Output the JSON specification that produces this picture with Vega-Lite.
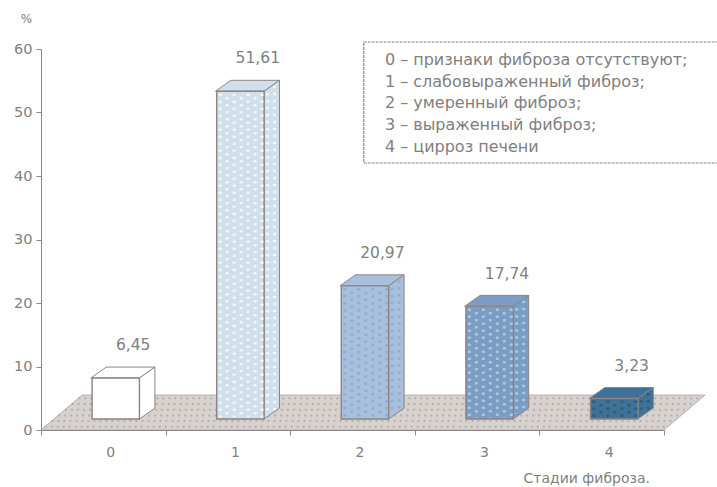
{
  "$schema": "https://vega.github.io/schema/vega-lite/v6.json",
  "width": 623,
  "height": 381,
  "autosize": "none",
  "padding": {"left": 41, "top": 49, "right": 53, "bottom": 57},
  "background": "white",
  "config": {"view": {"stroke": null}, "text": {"font": "DejaVu Sans"}, "axis": {"grid": false}},
  "datasets": {
    "stages": [
      {"stage": 0, "value": 6.45, "description": "признаки фиброза отсутствуют;"},
      {"stage": 1, "value": 51.61, "description": "слабовыраженный фиброз;"},
      {"stage": 2, "value": 20.97, "description": "умеренный фиброз;"},
      {"stage": 3, "value": 17.74, "description": "выраженный фиброз;"},
      {"stage": 4, "value": 3.23, "description": "цирроз печени"}
    ],
    "floor": [
      {"fy": 0, "fx": 0, "fx2": 5},
      {"fy": 5.5, "fx": 0.33, "fx2": 5.33}
    ],
    "floorLines": [
      {"fy": 0.5}, {"fy": 1.4}, {"fy": 2.3}, {"fy": 3.2}, {"fy": 4.1}, {"fy": 5.0}
    ],
    "note": [{"x": 2.59, "x2": 5.6, "y": 42.05, "y2": 61.1}]
  },
  "layer": [
    {
      "data": {"name": "floor"},
      "mark": {"type": "area", "orient": "horizontal", "fill": "#d8d2ce", "stroke": "#b8b0ae", "strokeWidth": 1},
      "encoding": {
        "y": {
          "field": "fy", "type": "quantitative",
          "scale": {"domain": [0, 60], "nice": false, "zero": false},
          "axis": {
            "values": [0, 10, 20, 30, 40, 50, 60],
            "zindex": 1,
            "domainColor": "#8f8785", "tickColor": "#8f8785", "tickSize": 5,
            "labelColor": "#808080", "labelFont": "DejaVu Sans", "labelFontSize": 14.5, "labelPadding": 4,
            "title": "%", "titleAngle": 0, "titleX": -15, "titleY": -24, "titleAlign": "center",
            "titleColor": "#808080", "titleFont": "DejaVu Sans", "titleFontSize": 12, "titleFontWeight": "normal"
          }
        },
        "x": {
          "field": "fx", "type": "quantitative",
          "scale": {"domain": [0, 5], "nice": false, "zero": false},
          "axis": {
            "values": [0, 1, 2, 3, 4, 5],
            "zindex": 1, "labels": false,
            "domainColor": "#8f8785", "tickColor": "#8f8785", "tickSize": 5,
            "title": "Стадии фиброза.", "titleX": 482, "titleY": 41, "titleAlign": "left",
            "titleColor": "#808080", "titleFont": "DejaVu Sans", "titleFontSize": 14, "titleFontWeight": "normal"
          }
        },
        "x2": {"field": "fx2"}
      }
    },
    {
      "data": {"name": "floorLines"},
      "transform": [
        {"calculate": "datum.fy / 5.5 * 0.33", "as": "lx"},
        {"calculate": "datum.lx + 5", "as": "lx2"}
      ],
      "mark": {"type": "rule", "stroke": "#8f8684", "strokeDash": [2, 4], "strokeWidth": 2, "opacity": 0.45},
      "encoding": {
        "y": {"field": "fy", "type": "quantitative", "scale": {"domain": [0, 60], "nice": false, "zero": false}},
        "x": {"field": "lx", "type": "quantitative", "scale": {"domain": [0, 5], "nice": false, "zero": false}},
        "x2": {"field": "lx2"}
      }
    },
    {
      "data": {"name": "stages"},
      "layer": [
        {
          "transform": [
            {"calculate": "[0, 1]", "as": "k"},
            {"flatten": ["k"]},
            {"calculate": "datum.value + 1.73 + datum.k * 1.73", "as": "topY"},
            {"calculate": "datum.stage + 0.4 + datum.k * 0.124", "as": "leftX"},
            {"calculate": "datum.stage + 0.79 + datum.k * 0.124", "as": "rightX"}
          ],
          "mark": {"type": "area", "orient": "horizontal", "stroke": "#8b8483", "strokeWidth": 1},
          "encoding": {
            "y": {"field": "topY", "type": "quantitative", "scale": {"domain": [0, 60], "nice": false, "zero": false}},
            "x": {"field": "leftX", "type": "quantitative", "scale": {"domain": [0, 5], "nice": false, "zero": false}},
            "x2": {"field": "rightX"},
            "detail": {"field": "stage"},
            "fill": {"field": "stage", "type": "nominal", "legend": null,
              "scale": {"domain": [0, 1, 2, 3, 4], "range": ["#ffffff", "#cfe0ea", "#a9c0dc", "#7c9cc4", "#3f7296"]}}
          }
        },
        {
          "transform": [
            {"calculate": "[0, 1]", "as": "k"},
            {"flatten": ["k"]},
            {"calculate": "datum.stage + 0.79 + datum.k * 0.124", "as": "sideX"},
            {"calculate": "1.73 + datum.k * 1.73", "as": "sideLow"},
            {"calculate": "datum.value + 1.73 + datum.k * 1.73", "as": "sideHigh"}
          ],
          "mark": {"type": "area", "stroke": "#8b8483", "strokeWidth": 1},
          "encoding": {
            "x": {"field": "sideX", "type": "quantitative", "scale": {"domain": [0, 5], "nice": false, "zero": false}},
            "y": {"field": "sideHigh", "type": "quantitative", "scale": {"domain": [0, 60], "nice": false, "zero": false}},
            "y2": {"field": "sideLow"},
            "detail": {"field": "stage"},
            "fill": {"field": "stage", "type": "nominal", "legend": null,
              "scale": {"domain": [0, 1, 2, 3, 4], "range": ["#ffffff", "#cfe0ea", "#a9c0dc", "#7c9cc4", "#3f7296"]}}
          }
        },
        {
          "transform": [
            {"calculate": "datum.stage + 0.41", "as": "frontX"},
            {"calculate": "datum.stage + 0.79", "as": "frontX2"},
            {"calculate": "datum.value + 1.73", "as": "frontTop"},
            {"calculate": "1.73", "as": "frontBase"}
          ],
          "mark": {"type": "rect", "stroke": "#8b8483", "strokeWidth": 1.4},
          "encoding": {
            "x": {"field": "frontX", "type": "quantitative", "scale": {"domain": [0, 5], "nice": false, "zero": false}},
            "x2": {"field": "frontX2"},
            "y": {"field": "frontTop", "type": "quantitative", "scale": {"domain": [0, 60], "nice": false, "zero": false}},
            "y2": {"field": "frontBase"},
            "fill": {"field": "stage", "type": "nominal", "legend": null,
              "scale": {"domain": [0, 1, 2, 3, 4], "range": ["#ffffff", "#cfe0ea", "#a9c0dc", "#7c9cc4", "#3f7296"]}}
          }
        },
        {
          "transform": [
            {"filter": "datum.stage > 0"},
            {"calculate": "[0, 1, 2, 3, 4, 5, 6, 7, 8]", "as": "col"},
            {"flatten": ["col"]},
            {"calculate": "datum.stage + 0.438 + 0.056 * datum.col - (datum.col > 6 ? 0.012 : 0)", "as": "dotX"},
            {"calculate": "datum.col > 6 ? (datum.col - 6) * 0.6 : 0", "as": "lift"},
            {"calculate": "datum.value + 1.4 + datum.lift - (datum.col % 2) * 0.55", "as": "dotTop"},
            {"calculate": "1.95 + datum.lift", "as": "dotBase"}
          ],
          "mark": {"type": "rule", "strokeDash": [2.5, 4.5], "strokeWidth": 3, "opacity": 0.7},
          "encoding": {
            "x": {"field": "dotX", "type": "quantitative", "scale": {"domain": [0, 5], "nice": false, "zero": false}},
            "y": {"field": "dotTop", "type": "quantitative", "scale": {"domain": [0, 60], "nice": false, "zero": false}},
            "y2": {"field": "dotBase"},
            "stroke": {"field": "stage", "type": "nominal", "legend": null,
              "scale": {"domain": [1, 2, 3, 4], "range": ["#ffffff", "#8aa6d0", "#b4dfe6", "#2a5570"]}}
          }
        },
        {
          "transform": [
            {"calculate": "replace(format(datum.value, '.2f'), '.', ',')", "as": "valueLabel"},
            {"calculate": "datum.stage + 0.74", "as": "labelX"},
            {"calculate": "datum.value + 6.9", "as": "labelY"}
          ],
          "mark": {"type": "text", "fontSize": 15.5, "color": "#808080", "align": "center", "baseline": "middle"},
          "encoding": {
            "x": {"field": "labelX", "type": "quantitative", "scale": {"domain": [0, 5], "nice": false, "zero": false}},
            "y": {"field": "labelY", "type": "quantitative", "scale": {"domain": [0, 60], "nice": false, "zero": false}},
            "text": {"field": "valueLabel"}
          }
        },
        {
          "transform": [
            {"calculate": "datum.stage + 0.56", "as": "tickX"},
            {"calculate": "-3.6", "as": "tickY"}
          ],
          "mark": {"type": "text", "fontSize": 14, "color": "#808080", "align": "center", "baseline": "middle"},
          "encoding": {
            "x": {"field": "tickX", "type": "quantitative", "scale": {"domain": [0, 5], "nice": false, "zero": false}},
            "y": {"field": "tickY", "type": "quantitative", "scale": {"domain": [0, 60], "nice": false, "zero": false}},
            "text": {"field": "stage"}
          }
        }
      ]
    },
    {
      "data": {"name": "note"},
      "mark": {"type": "rect", "fill": "#ffffff", "stroke": "#8b8483", "strokeWidth": 1.2, "strokeDash": [3, 1]},
      "encoding": {
        "x": {"field": "x", "type": "quantitative", "scale": {"domain": [0, 5], "nice": false, "zero": false}},
        "x2": {"field": "x2"},
        "y": {"field": "y", "type": "quantitative", "scale": {"domain": [0, 60], "nice": false, "zero": false}},
        "y2": {"field": "y2"}
      }
    },
    {
      "data": {"name": "stages"},
      "transform": [
        {"calculate": "datum.stage + ' – ' + datum.description", "as": "line"},
        {"calculate": "2.76", "as": "lineX"},
        {"calculate": "58.3 - datum.stage * 3.43", "as": "lineY"}
      ],
      "mark": {"type": "text", "fontSize": 16, "color": "#808080", "align": "left", "baseline": "middle"},
      "encoding": {
        "x": {"field": "lineX", "type": "quantitative", "scale": {"domain": [0, 5], "nice": false, "zero": false}},
        "y": {"field": "lineY", "type": "quantitative", "scale": {"domain": [0, 60], "nice": false, "zero": false}},
        "text": {"field": "line"}
      }
    }
  ]
}
